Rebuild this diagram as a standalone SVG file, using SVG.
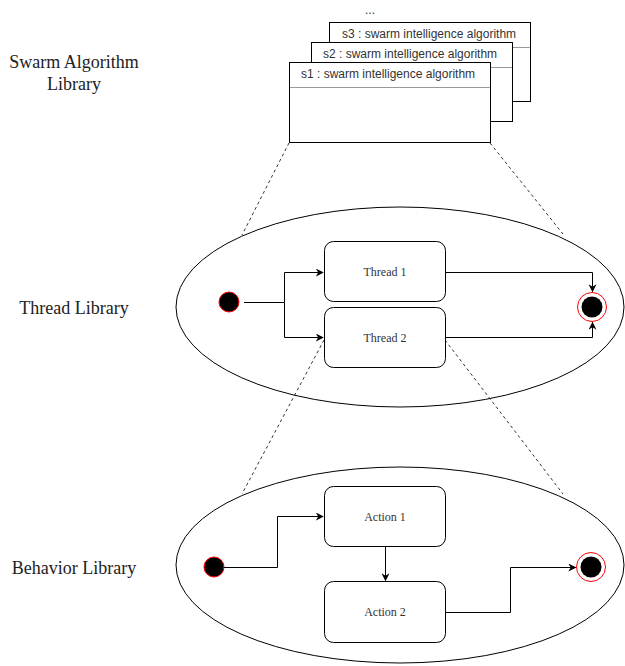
<svg xmlns="http://www.w3.org/2000/svg" width="625" height="666" viewBox="0 0 625 666">
<defs>
<style>
.lbl{font-family:"Liberation Serif","Times New Roman",serif;font-size:18px;fill:#222;text-anchor:middle}
.nt{font-family:"Liberation Serif","Times New Roman",serif;font-size:12px;fill:#333;text-anchor:middle}
.st{font-family:"Liberation Sans",Arial,sans-serif;font-size:12px;fill:#333}
.box{fill:#fff;stroke:#000;stroke-width:1}
.sep{stroke:#999;stroke-width:1}
.rb{fill:#fff;stroke:#000;stroke-width:1}
.ell{fill:#fff;stroke:#000;stroke-width:1}
.edge{fill:none;stroke:#000;stroke-width:1}
.dash{fill:none;stroke:#000;stroke-width:0.8;stroke-dasharray:3 3}
.init{fill:#000;stroke:#f00;stroke-width:1}
</style>
<marker id="arr" viewBox="0 0 10 10" refX="9" refY="5" markerWidth="8" markerHeight="8" markerUnits="userSpaceOnUse" orient="auto">
<path d="M0,0 L10,5 L0,10 L3,5 Z" fill="#000"/>
</marker>
</defs>
<rect width="625" height="666" fill="#fff"/>
<g id="labels">
<text class="lbl" x="74" y="68">Swarm Algorithm</text>
<text class="lbl" x="74" y="90">Library</text>
<text class="lbl" x="74" y="314">Thread Library</text>
<text class="lbl" x="74" y="574">Behavior Library</text>
<text class="st" x="370" y="14" text-anchor="middle" font-size="14">...</text>
</g>
<g id="s3">
<rect class="box" x="329.500" y="22.500" width="201" height="79"/>
<line class="sep" x1="330" y1="47.500" x2="530" y2="47.500"/>
<text class="st" x="342" y="38">s3 : swarm intelligence algorithm</text>
</g>
<g id="s2">
<rect class="box" x="311.500" y="42.500" width="201" height="79"/>
<line class="sep" x1="312" y1="67.500" x2="512" y2="67.500"/>
<text class="st" x="323" y="58">s2 : swarm intelligence algorithm</text>
</g>
<g id="s1">
<rect class="box" x="289.500" y="62.500" width="201" height="80"/>
<line class="sep" x1="290" y1="87.500" x2="490" y2="87.500"/>
<text class="st" x="301" y="78">s1 : swarm intelligence algorithm</text>
</g>
<g id="thread-library">
<ellipse class="ell" cx="400" cy="307" rx="224" ry="100"/>
</g>
<g id="behavior-library">
<ellipse class="ell" cx="400" cy="565" rx="224" ry="98"/>
</g>
<g id="connectors-dashed">
<line class="dash" x1="289" y1="143" x2="242" y2="235"/>
<line class="dash" x1="490" y1="143" x2="563" y2="234"/>
<line class="dash" x1="324" y1="340" x2="242" y2="494"/>
<line class="dash" x1="445" y1="340" x2="563" y2="494"/>
</g>
<g id="thread1">
<rect class="rb" x="324.500" y="241.500" width="121" height="60" rx="9"/>
<text class="nt" x="385" y="276">Thread 1</text>
</g>
<g id="thread2">
<rect class="rb" x="324.500" y="307.500" width="121" height="60" rx="9"/>
<text class="nt" x="385" y="342">Thread 2</text>
</g>
<g id="t-init">
<circle class="init" cx="229" cy="302" r="10"/>
</g>
<g id="t-final">
<circle cx="592" cy="307" r="14.500" fill="#fff" stroke="#f00" stroke-width="1"/>
<circle cx="592" cy="307" r="10.500" fill="#000"/>
</g>
<g id="action1">
<rect class="rb" x="324.500" y="486.500" width="121" height="60" rx="9"/>
<text class="nt" x="385" y="521">Action 1</text>
</g>
<g id="action2">
<rect class="rb" x="324.500" y="581.500" width="121" height="61" rx="9"/>
<text class="nt" x="385" y="616">Action 2</text>
</g>
<g id="b-init">
<circle class="init" cx="214" cy="567" r="10"/>
</g>
<g id="b-final">
<circle cx="591" cy="567" r="14.500" fill="#fff" stroke="#f00" stroke-width="1"/>
<circle cx="591" cy="567" r="10.500" fill="#000"/>
</g>
<g id="connectors">
<path class="edge" d="M244,302.500 H284.500 V272.500 H323" marker-end="url(#arr)"/>
<path class="edge" d="M284.500,302.500 V337.500 H323" marker-end="url(#arr)"/>
<path class="edge" d="M445,272.500 H592.500 V291.500" marker-end="url(#arr)"/>
<path class="edge" d="M445,337.500 H592.500 V322.500" marker-end="url(#arr)"/>
<path class="edge" d="M224,567.500 H277.500 V516.500 H323" marker-end="url(#arr)"/>
<path class="edge" d="M385.500,546 V580.500" marker-end="url(#arr)"/>
<path class="edge" d="M445,612.500 H510.500 V567.500 H575.500" marker-end="url(#arr)"/>
</g>
</svg>
